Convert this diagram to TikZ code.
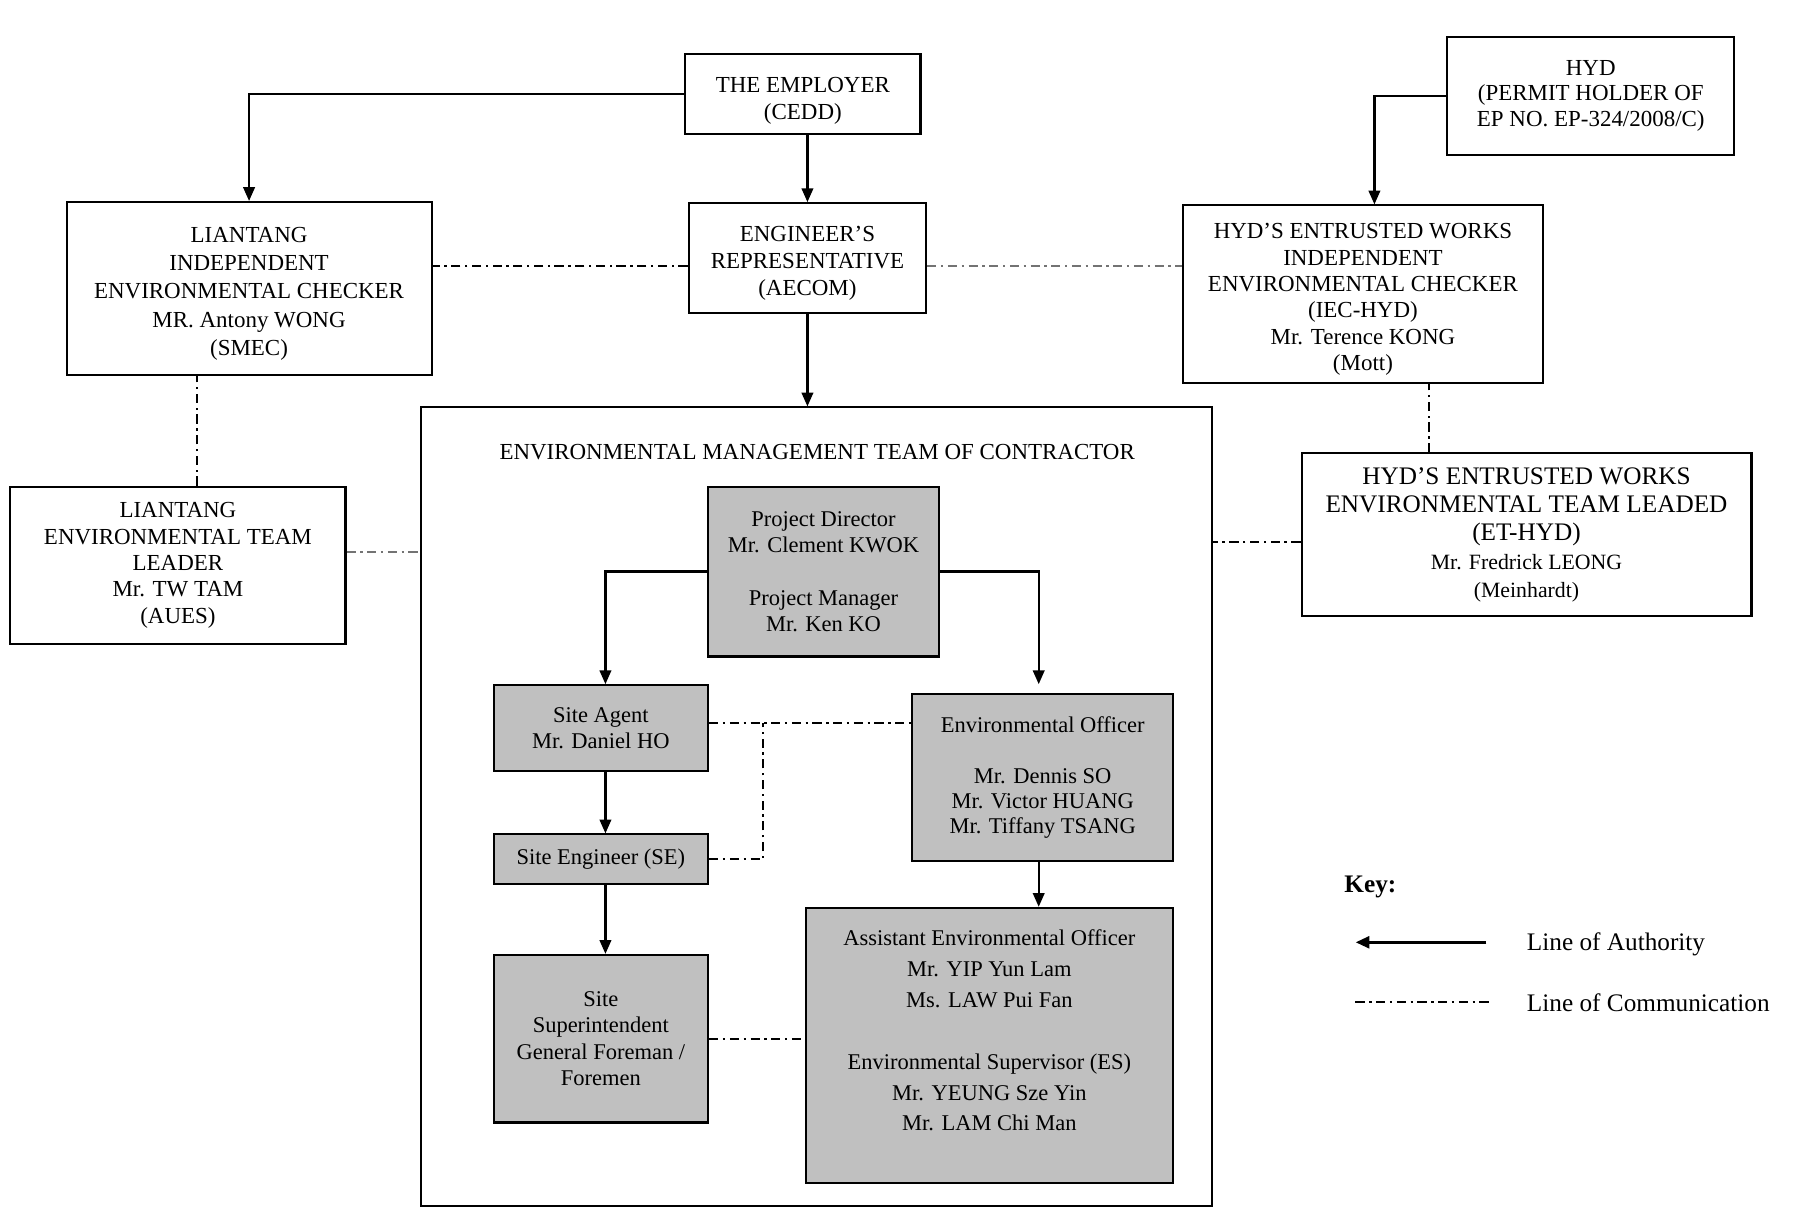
\documentclass[tikz,border=0pt]{standalone}
\usepackage{fontspec}
\setmainfont{Liberation Serif}
\usetikzlibrary{arrows.meta,calc}
\definecolor{boxgray}{RGB}{192,192,192}
\newcommand\topstrut[1]{\rule{0pt}{#1}}
\begin{document}
\begin{tikzpicture}[x=0.5pt,y=-0.5pt,
 wbox/.style={draw, line width=0.9pt, align=center, inner sep=0pt, font=\fontsize{10}{11.75}\selectfont},
 gbox/.style={wbox, fill=boxgray},
 auth/.style={line width=1pt, -{Triangle[length=6pt,width=5pt]}},
 comm/.style={line width=0.9pt, dash pattern=on 4pt off 2pt on 1pt off 2pt},
 lcomm/.style={comm, draw=black!55},
 keytext/.style={font=\fontsize{11}{13}\selectfont, anchor=west, inner sep=0pt}]
\useasboundingbox (0,0) rectangle (1568.3,1065.6);
% top row
\node[wbox, minimum width=102.5pt, minimum height=35pt] (emp) at (699.5,82) {\topstrut{12.6pt}THE EMPLOYER\\(CEDD)};
\node[wbox, minimum width=125pt, minimum height=51.5pt, font=\fontsize{10}{11.25}\selectfont] (hyd) at (1386,83.5) {HYD\\(PERMIT HOLDER OF\\EP NO. EP-324/2008/C)};
% second row
\node[wbox, minimum width=159pt, minimum height=75.5pt, font=\fontsize{10}{12.25}\selectfont] (liec) at (217,251.5) {\topstrut{11.1pt}LIANTANG\\INDEPENDENT\\ENVIRONMENTAL CHECKER\\MR. Antony WONG\\(SMEC)};
\node[wbox, minimum width=103.5pt, minimum height=48pt] (er) at (703.5,225) {\topstrut{11.1pt}ENGINEER’S\\REPRESENTATIVE\\(AECOM)};
\node[wbox, minimum width=156.5pt, minimum height=77.5pt, font=\fontsize{10}{11.5}\selectfont] (hiec) at (1187.5,256.5) {\topstrut{11.1pt}HYD’S ENTRUSTED WORKS\\INDEPENDENT\\ENVIRONMENTAL CHECKER\\(IEC-HYD)\\Mr. Terence KONG\\(Mott)};
% contractor team frame
\node[draw, line width=0.9pt, minimum width=344.5pt, minimum height=348pt, inner sep=0pt] (emt) at (711.5,703) {};
\node[font=\fontsize{10}{12}\selectfont, inner sep=0pt] (emttitle) at (712,394) {ENVIRONMENTAL MANAGEMENT TEAM OF CONTRACTOR};
% side boxes
\node[wbox, minimum width=146pt, minimum height=68.5pt, font=\fontsize{10}{11.5}\selectfont] (liet) at (155,492.5) {LIANTANG\\ENVIRONMENTAL TEAM\\LEADER\\Mr. TW TAM\\(AUES)};
\node[wbox, minimum width=196pt, minimum height=71pt, font=\fontsize{11}{12.25}\selectfont] (het) at (1330,466) {HYD’S ENTRUSTED WORKS\\ENVIRONMENTAL TEAM LEADED\\(ET-HYD)\\{\fontsize{9.5}{12.25}\selectfont Mr. Fredrick LEONG}\\{\fontsize{9.5}{12.25}\selectfont (Meinhardt)}};
% grey boxes
\node[gbox, minimum width=100.5pt, minimum height=74pt, font=\fontsize{9.8}{11.5}\selectfont] (pd) at (717.5,498) {Project Director\\Mr. Clement KWOK\\[11.5pt]Project Manager\\Mr. Ken KO};
\node[gbox, minimum width=93.5pt, minimum height=37.5pt, font=\fontsize{9.8}{11.5}\selectfont] (sa) at (523.5,634.5) {Site Agent\\Mr. Daniel HO};
\node[gbox, minimum width=113.5pt, minimum height=72.5pt, font=\fontsize{9.8}{11}\selectfont] (eo) at (908.5,677.5) {Environmental Officer\\[11pt]Mr. Dennis SO\\Mr. Victor HUANG\\Mr. Tiffany TSANG};
\node[gbox, minimum width=93.5pt, minimum height=21.5pt, font=\fontsize{9.8}{11.5}\selectfont] (se) at (523.5,748.5) {Site Engineer (SE)};
\node[gbox, minimum width=93.5pt, minimum height=73pt, font=\fontsize{9.8}{11.5}\selectfont] (ss) at (523.5,905) {Site\\Superintendent\\General Foreman /\\Foremen};
\node[gbox, minimum width=160pt, minimum height=120pt, font=\fontsize{9.8}{13.5}\selectfont] (aeo) at (862,911) {Assistant Environmental Officer\\Mr. YIP Yun Lam\\Ms. LAW Pui Fan\\[13.5pt]Environmental Supervisor (ES)\\Mr. YEUNG Sze Yin\\Mr. LAM Chi Man\\~};
% lines of authority
\draw[auth] (emp.west) -| (liec.north);
\draw[auth] (emp.south -| er.north) -- (er.north);
\draw[auth] (er.south) -- (er.south |- emt.north);
\draw[auth] (hyd.west) -| ([xshift=5pt]hiec.north);
\draw[auth] (pd.west) -| ([xshift=2pt]sa.north);
\draw[auth, shorten >=4pt] (pd.east) -| ([xshift=-1.75pt]eo.north);
\draw[auth] ([xshift=2pt]sa.south) -- ([xshift=2pt]se.north);
\draw[auth] ([xshift=2pt]se.south) -- ([xshift=2pt]ss.north);
\coordinate (c0) at ([xshift=-1.75pt]eo.south);
\draw[auth] (c0) -- (c0 |- aeo.north);
% lines of communication
\coordinate (c1) at ([yshift=-3.5pt]er.west);
\draw[comm] (c1) -- (c1 -| liec.east);
\coordinate (c2) at ([yshift=-3.5pt]er.east);
\draw[lcomm] (c2) -- (c2 -| hiec.west);
\coordinate (c3) at ([xshift=8.5pt]liet.north);
\draw[comm] (c3) -- (c3 |- liec.south);
\coordinate (c4) at ([xshift=-42.5pt]het.north);
\draw[comm] (c4) -- (c4 |- hiec.south);
\coordinate (c5) at ([yshift=5.75pt]liet.east);
\draw[lcomm] (c5) -- (c5 -| emt.west);
\coordinate (c6) at ([yshift=-3pt]het.west);
\draw[comm] (c6) -- (c6 -| emt.east);
\coordinate (c7) at ([yshift=2.25pt]sa.east);
\draw[comm] (c7) -- (c7 -| eo.west);
\coordinate (c8) at ([xshift=23.5pt]c7);
\draw[comm] (se.east) -| (c8);
\draw[comm] (ss.east) -- (ss.east -| aeo.west);
% key
\node[font=\bfseries\fontsize{11}{13}\selectfont, anchor=west, inner sep=0pt] (key) at (1171,773) {Key:};
\coordinate (ka) at (1295,821);
\coordinate (kb) at (1181,821);
\draw[auth, line width=1.5pt] (ka) -- (kb);
\node[keytext] (kauth) at (1330,823) {Line of Authority};
\coordinate (kc) at (1181,873);
\coordinate (kd) at (1297,873);
\draw[comm] (kc) -- (kd);
\node[keytext] (kcomm) at (1330,874) {Line of Communication};
\end{tikzpicture}
\end{document}
